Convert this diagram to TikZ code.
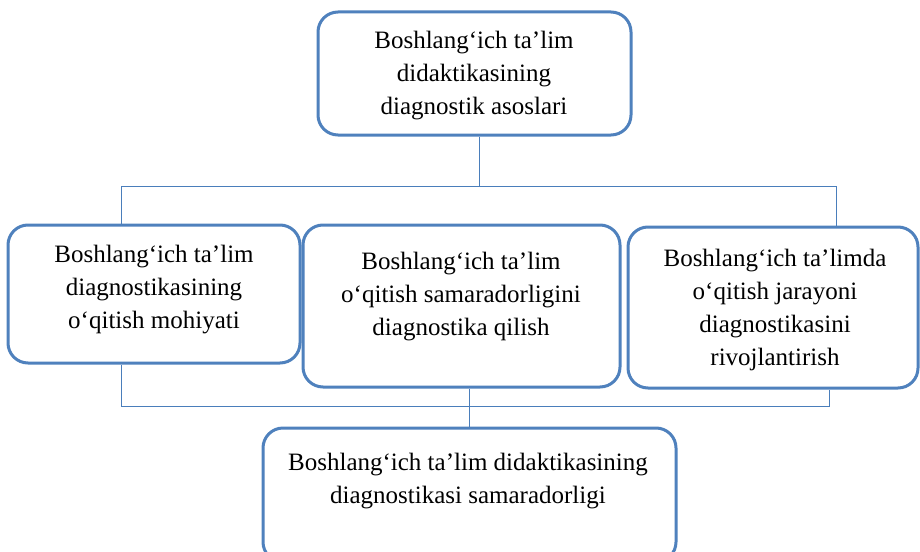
\documentclass[tikz,border=0pt]{standalone}
\usepackage{fontspec}
\setmainfont{Liberation Serif}
\definecolor{boxblue}{HTML}{4F81BD}
\definecolor{lineblue}{HTML}{4A7EBB}
\begin{document}
\begin{tikzpicture}[x=1pt,y=-1pt,
  box/.style={draw=boxblue,line width=3pt,rounded corners=20pt,inner sep=0pt,fill=white},
  txt/.style={align=center,inner sep=0pt,font=\fontsize{25}{33}\selectfont},
  conn/.style={draw=lineblue,line width=1pt}]
\useasboundingbox (0,0) rectangle (920,551);
\clip (0,0) rectangle (920,551);
% boxes
\node[box,minimum width=313pt,minimum height=123pt] (top) at (474.5,73.5) {};
\node[box,minimum width=292pt,minimum height=138pt] (b1) at (154,294) {};
\node[box,minimum width=317pt,minimum height=162pt] (b2) at (461.5,306) {};
\node[box,minimum width=290pt,minimum height=161pt] (b3) at (773,307.5) {};
\node[box,minimum width=413pt,minimum height=134pt] (b4) at (469.5,495) {};
% texts
\node[txt] (ttop) at (474,76) {Boshlang‘ich ta’lim\\didaktikasining\\diagnostik asoslari};
\node[txt] (tb1) at (154,290) {Boshlang‘ich ta’lim\\diagnostikasining\\o‘qitish mohiyati};
\node[txt] (tb2) at (461,297) {Boshlang‘ich ta’lim\\o‘qitish samaradorligini\\diagnostika qilish};
\node[txt] (tb3) at (775,310) {Boshlang‘ich ta’limda\\o‘qitish jarayoni\\diagnostikasini\\rivojlantirish};
\node[txt] (tb4) at (468,481) {Boshlang‘ich ta’lim didaktikasining\\diagnostikasi samaradorligi};
% junction coordinates
\coordinate (jt) at (479,186);
\coordinate (jl) at (121,186);
\coordinate (jr) at (836,186);
\coordinate (kl) at (121,406);
\coordinate (kr) at (829,406);
\coordinate (km) at (469,406);
% connectors
\draw[conn] (top.south -| jt) -- (jt);
\draw[conn] (b1.north -| jl) -- (jl) -- (jr) -- (b3.north -| jr);
\draw[conn] (b1.south -| kl) -- (kl) -- (kr) -- (b3.south -| kr);
\draw[conn] (b2.south -| km) -- (b4.north -| km);
\end{tikzpicture}
\end{document}
